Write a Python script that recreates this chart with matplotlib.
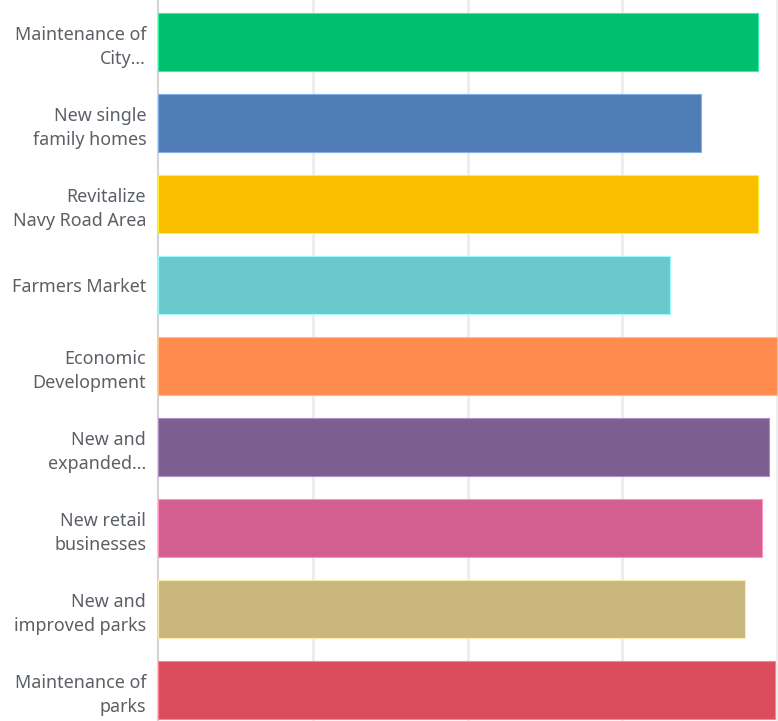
import matplotlib
matplotlib.use("Agg")
import matplotlib.pyplot as plt
from matplotlib.colors import to_rgba

categories = [
    "Maintenance of\nCity...",
    "New single\nfamily homes",
    "Revitalize\nNavy Road Area",
    "Farmers Market",
    "Economic\nDevelopment",
    "New and\nexpanded...",
    "New retail\nbusinesses",
    "New and\nimproved parks",
    "Maintenance of\nparks",
]
values = [3.88, 3.51, 3.88, 3.31, 4.00, 3.95, 3.90, 3.79, 3.99]
colors = ["#00BF6F", "#507CB6", "#F9BE00", "#6BC8CD", "#FF8B4F",
          "#7D5E90", "#D25F90", "#C9B77D", "#DB4D5C"]
grid_ticks = [1, 2, 3, 4]

W, H = 778, 721
fig = plt.figure(figsize=(W / 100, H / 100), dpi=100)
x0, x1 = 158, 778
ax = fig.add_axes([x0 / W, 0, (x1 - x0) / W, 1])

ypos = list(range(len(categories)))
edge = [tuple(min(1, c + 0.2) for c in to_rgba(col)[:3]) for col in colors]
ax.barh(ypos, values, height=0.716, color=colors, edgecolor=edge, linewidth=0.8, zorder=3)

ax.set_xlim(0, 4 * (x1 - x0) / (777 - x0))
ax.set_ylim(8.379, -0.522)
ax.set_xticks(grid_ticks)
ax.set_xticklabels([])
ax.tick_params(axis="x", length=0)
ax.grid(axis="x", color="#ededed", linewidth=2, zorder=0)
ax.set_yticks(ypos)
ax.set_yticklabels(categories, fontsize=12.9, color="#5b6066", family=["Noto Sans", "DejaVu Sans"],
                   linespacing=1.38)
ax.tick_params(axis="y", length=0, pad=8.5)
for s in ["top", "right", "bottom"]:
    ax.spines[s].set_visible(False)
ax.spines["left"].set_color("#d4d4d4")
ax.spines["left"].set_linewidth(1.5)

fig.savefig("out.png", dpi=100)
